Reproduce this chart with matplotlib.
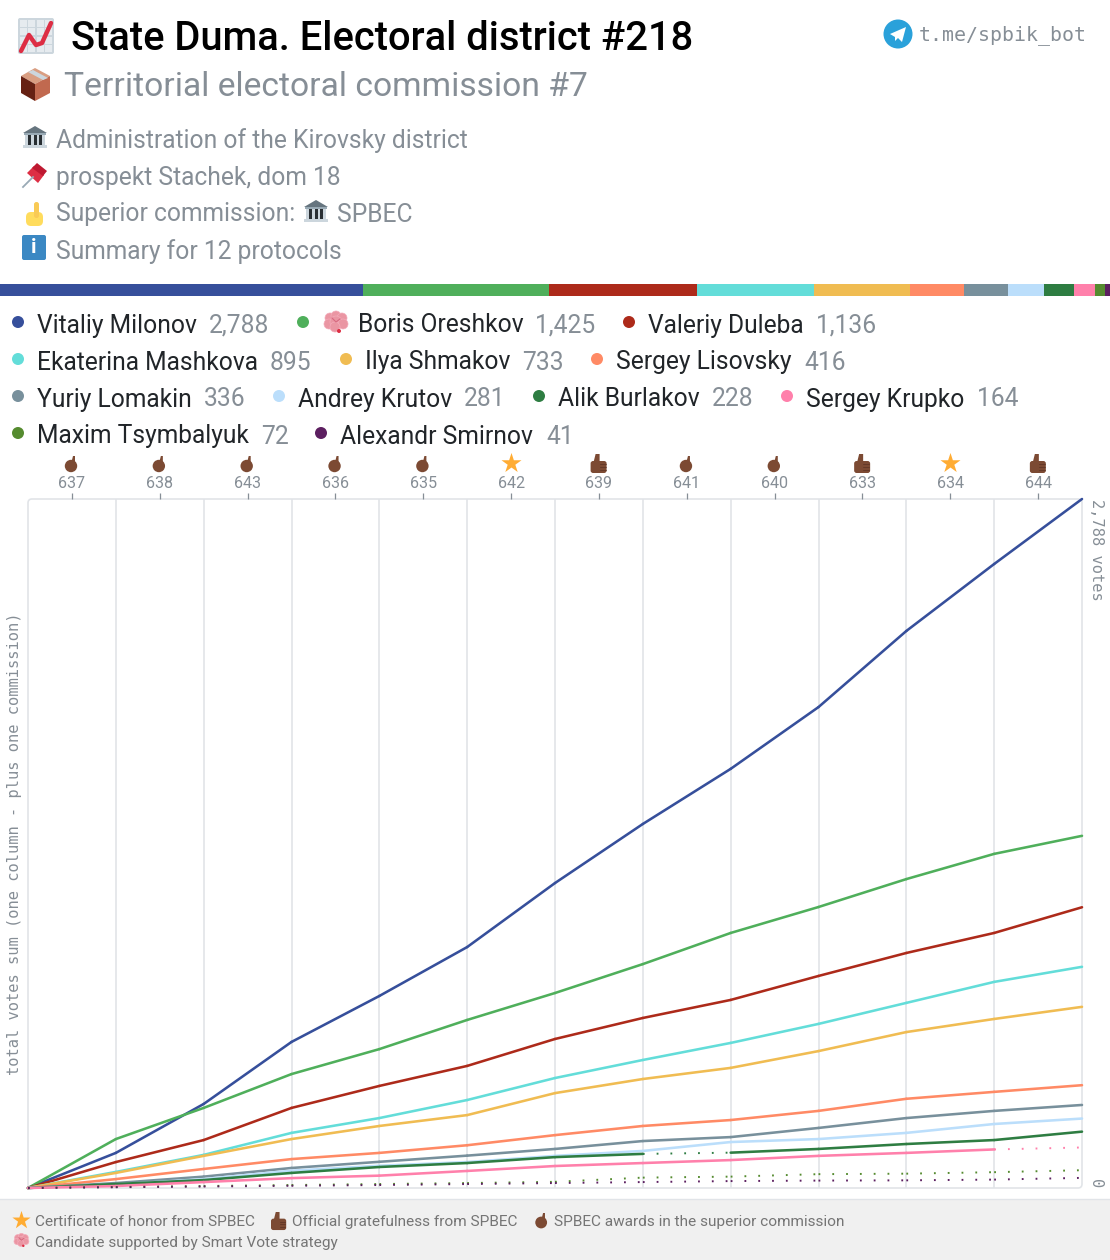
import matplotlib
matplotlib.use("Agg")
import matplotlib.pyplot as plt
from matplotlib.patches import Circle, FancyBboxPatch, Polygon, Rectangle

plt.rcParams['font.family'] = ['Roboto', 'DejaVu Sans']
plt.rcParams['lines.scale_dashes'] = False

# ---------- data
names = ["Vitaliy Milonov", "Boris Oreshkov", "Valeriy Duleba", "Ekaterina Mashkova",
         "Ilya Shmakov", "Sergey Lisovsky", "Yuriy Lomakin", "Andrey Krutov",
         "Alik Burlakov", "Sergey Krupko", "Maxim Tsymbalyuk", "Alexandr Smirnov"]
totals = [2788, 1425, 1136, 895, 733, 416, 336, 281, 228, 164, 72, 41]
colors = ["#364F9B", "#4FAF5B", "#AD2A1A", "#63DDD9", "#F0BC52", "#FF8A65",
          "#78909C", "#BBDEFB", "#2E7D42", "#FF80AB", "#558B2F", "#5C1F60"]

commissions = ["637", "638", "643", "636", "635", "642", "639", "641", "640", "633", "634", "644"]
awards = ["point", "point", "point", "point", "point", "star", "thumb", "point", "point", "thumb", "star", "thumb"]

# cumulative votes after each commission
milonov = [0, 142, 340, 591, 777, 975, 1234, 1473, 1696, 1946, 2254, 2525, 2788]
oreshkov = [0, 198, 324, 461, 562, 680, 789, 906, 1032, 1137, 1250, 1352, 1425]
duleba = [0, 105, 194, 324, 413, 494, 603, 688, 761, 858, 951, 1032, 1136]
mashkova = [0, 65, 134, 223, 283, 356, 445, 518, 587, 664, 749, 834, 895]
shmakov = [0, 61, 130, 198, 251, 295, 384, 441, 486, 554, 631, 684, 733]
lisovsky = [0, 36, 77, 117, 142, 173, 214, 251, 275, 312, 361, 389, 416]
lomakin = [0, 20, 46, 81, 106, 131, 158, 190, 206, 243, 283, 312, 336]
krutov = [0, 14, 36, 70, 90, 105, 130, 150, 186, 198, 223, 259, 281]
burlakov = [0, 16, 32, 61, 85, 101, 125, 138, 143, 158, 178, 194, 228]
krupko = [0, 8, 24, 40, 50, 69, 89, 101, 113, 130, 142, 156, 164]
tsymbalyuk = [0, 4, 8, 12, 16, 20, 25, 42, 46, 56, 58, 64, 72]
smirnov = [0, 3, 6, 9, 12, 16, 20, 24, 28, 30, 31, 34, 41]
series = [milonov, oreshkov, duleba, mashkova, shmakov, lisovsky, lomakin, krutov,
          burlakov, krupko, tsymbalyuk, smirnov]

# columns drawn dotted for each candidate (too few votes there)
dotted = {8: [7], 9: [11], 10: list(range(12)), 11: list(range(12))}

GRAY = "#868E96"
W, H = 1110, 1260

fig = plt.figure(figsize=(W / 100, H / 100), dpi=100)


def rect(x0, y0, x1, y1):
    return [x0 / W, 1 - y1 / H, (x1 - x0) / W, (y1 - y0) / H]


# overlay in pixel coordinates for header, legend, icons
ov = fig.add_axes([0, 0, 1, 1], zorder=0)
ov.set_xlim(0, W)
ov.set_ylim(H, 0)
ov.axis("off")

# ---------- icons (no colour emoji font here, so simple shapes)
def box(x, y, w, h, color, r=2):
    ov.add_patch(FancyBboxPatch((x + r, y + r), w - 2 * r, h - 2 * r, boxstyle=f"round,pad={r}",
                                fc=color, ec="none"))


def poly(points, color):
    ov.add_patch(Polygon(points, closed=True, fc=color, ec="none"))


def icon_chart(x, y):
    box(x, y, 36, 36, "#CCD6DD", 2)
    for i in range(4):
        for j in range(4):
            ov.add_patch(Rectangle((x + 2 + i * 8.3, y + 2 + j * 8.3), 7, 7, fc="#E6EBEF", ec="none"))
    ov.plot([x + 3, x + 11, x + 18, x + 24, x + 33], [y + 33, y + 17, y + 27, y + 25, y + 5],
            color="#DD2E44", lw=3.2, solid_capstyle="round", solid_joinstyle="round")


def icon_package(x, y):
    poly([(x, y + 8), (x + 14, y), (x + 29, y + 8), (x + 14, y + 16)], "#D99E82")
    poly([(x, y + 8), (x + 14, y + 16), (x + 14, y + 33), (x, y + 25)], "#662113")
    poly([(x + 14, y + 16), (x + 29, y + 8), (x + 29, y + 25), (x + 14, y + 33)], "#C1694F")
    poly([(x + 7, y + 4), (x + 12, y + 2), (x + 27, y + 10), (x + 22, y + 12)], "#CCD6DD")


def icon_bank(x, y, s=1.0):
    poly([(x, y + 7 * s), (x + 12 * s, y), (x + 24 * s, y + 7 * s)], "#66757F")
    ov.add_patch(Rectangle((x + 1 * s, y + 7 * s), 22 * s, 2 * s, fc="#99AAB5", ec="none"))
    ov.add_patch(Rectangle((x + 2 * s, y + 9 * s), 20 * s, 10 * s, fc="#CCD6DD", ec="none"))
    for dx in (5, 10.5, 16):
        ov.add_patch(Rectangle((x + dx * s, y + 9 * s), 3 * s, 10 * s, fc="#292F33", ec="none"))
    ov.add_patch(Rectangle((x, y + 19 * s), 24 * s, 3 * s, fc="#CCD6DD", ec="none"))


def icon_pin(x, y):
    ov.plot([x + 1, x + 11], [y + 24, y + 14], color="#99AAB5", lw=1.3)
    poly([(x + 5, y + 10), (x + 12, y + 3), (x + 22, y + 12), (x + 16, y + 20)], "#DD2E44")
    poly([(x + 10, y + 5), (x + 15, y), (x + 25, y + 8), (x + 21, y + 13)], "#BE1931")


def icon_finger(x, y):
    box(x + 1, y + 10, 17, 14, "#FFDC5D", 5)
    box(x + 9, y, 5, 16, "#F9CA55", 2.4)


def icon_info(x, y):
    box(x, y, 24, 25, "#3B88C3", 2)
    ov.text(x + 12, y + 12.5, "i", color="white", fontsize=15, fontweight="bold", ha="center", va="center")


def icon_brain(x, y, s=1.0):
    for dx, dy, r in [(6, 6, 5), (12, 4, 5), (18, 6, 5), (5, 12, 5), (12, 10, 6), (19, 12, 5), (11, 15, 5)]:
        ov.add_patch(Circle((x + dx * s, y + dy * s), r * s, fc="#EA96A3", ec="#F4ABBA", lw=0.5))
    ov.plot([x + 8 * s, x + 12 * s, x + 16 * s], [y + 6 * s, y + 10 * s, y + 7 * s], color="#D76A80", lw=0.8)
    ov.add_patch(Circle((x + 15 * s, y + 19 * s), 2 * s, fc="#DD2E44", ec="none"))


def icon_thumb(x, y, s=1.0):
    # hand, raised thumb, darker finger lines
    box(x, y + 7 * s, 16 * s, 12 * s, "#7C4A33", 2.5 * s)
    poly([(x + 3 * s, y + 8 * s), (x + 5 * s, y), (x + 9 * s, y), (x + 9 * s, y + 8 * s)], "#7C4A33")
    for dy in (10, 13, 16):
        ov.plot([x + 9 * s, x + 15 * s], [y + dy * s, y + dy * s], color="#5B3324", lw=0.5)


def icon_point(x, y, s=1.0):
    ov.add_patch(Circle((x + 6.5 * s, y + 10 * s), 6.2 * s, fc="#7C4A33", ec="none"))
    poly([(x + 7 * s, y + 6 * s), (x + 8.5 * s, y), (x + 10.5 * s, y), (x + 10.5 * s, y + 6 * s)], "#7C4A33")


def icon_star(x, y, size=300):
    ov.scatter([x], [y], marker="*", s=size, color="#FFAC33", linewidths=0)


def icon_telegram(x, y):
    ov.add_patch(Circle((x, y), 14.5, fc="#2AA1DA", ec="none"))
    poly([(x - 8, y), (x + 8, y - 7), (x + 4, y + 8), (x, y + 4), (x - 3, y + 7), (x - 3, y + 3)], "white")


# ---------- header
icon_chart(18, 18)
ov.text(71, 39.5, "State Duma. Electoral district #218", fontsize=28.7, fontweight="medium",
        color="black", va="center", ha="left")
icon_package(21, 68)
ov.text(64, 87.5, "Territorial electoral commission #7", fontsize=24.2, color=GRAY, va="center", ha="left")

icon_telegram(898, 34)
ov.text(919, 35, "t.me/spbik_bot", family="DejaVu Sans Mono", fontsize=14.3, color=GRAY, va="center", ha="left")

icon_bank(23, 126)
ov.text(56, 140.5, "Administration of the Kirovsky district", fontsize=17.75, color=GRAY, va="center", ha="left")
icon_pin(22, 163)
ov.text(56, 177.5, "prospekt Stachek, dom 18", fontsize=17.75, color=GRAY, va="center", ha="left")
icon_finger(25, 202)
ov.text(56, 214.5, "Superior commission:", fontsize=17.75, color=GRAY, va="center", ha="left")
icon_bank(304, 200)
ov.text(337, 214.5, "SPBEC", fontsize=17.75, color=GRAY, va="center", ha="left")
icon_info(22, 235)
ov.text(56, 251.5, "Summary for 12 protocols", fontsize=17.75, color=GRAY, va="center", ha="left")

# ---------- share bar
bar = fig.add_axes(rect(0, 284, W, 296))
left = 0
for total, color in zip(totals, colors):
    bar.barh(0, total, left=left, height=1, color=color, linewidth=0)
    left += total
bar.set_xlim(0, sum(totals))
bar.set_ylim(-0.5, 0.5)
bar.axis("off")

# ---------- legend rows (dot x, name x, value x, row y)
legend_dot_x = [18, 303, 629, 18, 346, 597, 18, 279, 539, 787, 18, 321]
legend_name_x = [37, 358, 648, 37, 365, 616, 37, 298, 558, 806, 37, 340]
legend_value_x = [209, 535, 816, 270, 522, 804, 204, 464, 712, 977, 261, 546]
legend_y = [324, 324, 324, 361, 361, 361, 398, 398, 398, 398, 435, 435]

for i, name in enumerate(names):
    ov.add_patch(Circle((legend_dot_x[i], legend_y[i] - 2), 6, fc=colors[i], ec="none"))
    ov.text(legend_name_x[i], legend_y[i] + 1.5, name, fontsize=17.75, color="#212529", va="center", ha="left")
    ov.text(legend_value_x[i], legend_y[i] + 1.5, f"{totals[i]:,}", fontsize=17.75, color=GRAY, va="center", ha="left")
icon_brain(324, 312)

# ---------- main chart
ax = fig.add_axes(rect(28, 499, 1082, 1188), zorder=2)
ax.patch.set_alpha(0)
ax.set_xlim(0, 12)
ax.set_ylim(0, 2788)
for spine in ax.spines.values():
    spine.set_visible(False)

for i in range(1, 12):
    ax.axvline(i, color="#E1E4E8", lw=1.2, zorder=1)

ticks = [i + 0.5 for i in range(12)]
ax.xaxis.tick_top()
ax.set_xticks(ticks)
ax.set_xticklabels(commissions, fontsize=11.6, color=GRAY)
ax.tick_params(axis="x", length=4.5, width=0.9, color=GRAY, pad=1)
ax.set_yticks([])

for s, (values, color) in enumerate(zip(series, colors)):
    cols = dotted.get(s, [])
    for c in range(12):
        xs = [c, c + 1]
        ys = values[c:c + 2]
        if c in cols:
            ax.plot(xs, ys, color=color, lw=1.4, linestyle=(0, (1.3, 8.64)), clip_on=False, zorder=3,
                    dash_capstyle="butt")
        else:
            ax.plot(xs, ys, color=color, lw=1.85, clip_on=False, zorder=3, solid_capstyle="round")

# chart frame with round corners
ov.add_patch(FancyBboxPatch((32, 503), 1046, 681, boxstyle="round,pad=4", fc="white", ec="#E1E4E8", lw=1.2))

fig.text(14.5 / W, 1 - 844 / H, "total votes sum (one column - plus one commission)", rotation=90,
         family="DejaVu Sans Mono", fontsize=11.1, color=GRAY, ha="center", va="center")
fig.text(1096 / W, 1 - 550 / H, "2,788 votes", rotation=-90,
         family="DejaVu Sans Mono", fontsize=11.1, color=GRAY, ha="center", va="center")
fig.text(1096 / W, 1 - 1184 / H, "0", rotation=-90,
         family="DejaVu Sans Mono", fontsize=11.1, color=GRAY, ha="center", va="center")

# awards above the ticks
for i, award in enumerate(awards):
    cx = 71.5 + i * 87.85
    if award == "star":
        icon_star(cx, 463, 230)
    elif award == "thumb":
        icon_thumb(cx - 8, 454, 1.0)
    else:
        icon_point(cx - 7, 456, 1.0)

# ---------- footer
ov.add_patch(Rectangle((0, 1199), W, H - 1199, fc="#F0F0F0", ec="none"))
ov.plot([0, W], [1198.5, 1198.5], color="#E1E4E8", lw=1)
icon_star(21, 1220, 190)
ov.text(35, 1222, "Certificate of honor from SPBEC", fontsize=11.1, color="#757575", va="center", ha="left")
icon_thumb(271, 1212, 0.95)
ov.text(292, 1222, "Official gratefulness from SPBEC", fontsize=11.1, color="#757575", va="center", ha="left")
icon_point(535, 1213, 0.95)
ov.text(554, 1222, "SPBEC awards in the superior commission", fontsize=11.1, color="#757575", va="center", ha="left")
icon_brain(14, 1234, 0.62)
ov.text(35, 1243, "Candidate supported by Smart Vote strategy", fontsize=11.1, color="#757575", va="center", ha="left")

fig.savefig("out.png", dpi=100)
